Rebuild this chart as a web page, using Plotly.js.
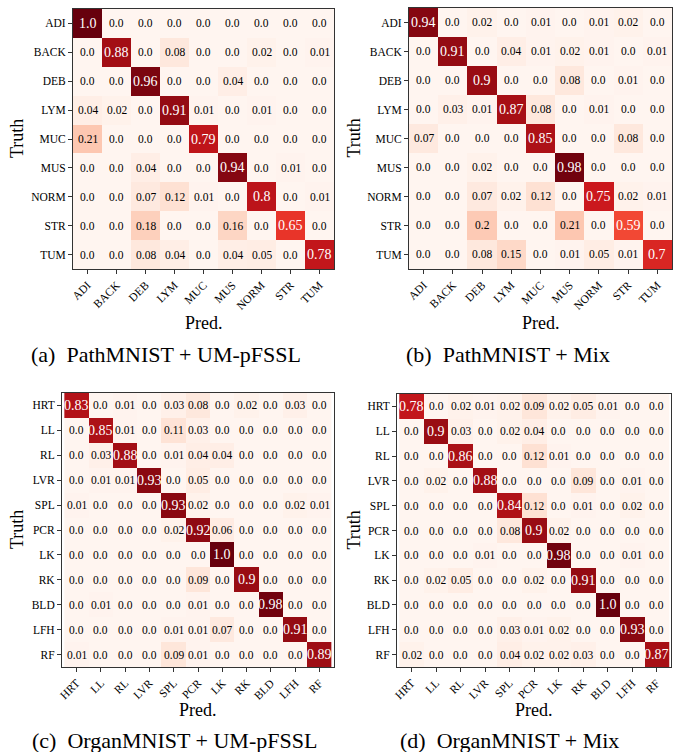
<!DOCTYPE html>
<html>
<head>
<meta charset="utf-8">
<script src="https://cdn.plot.ly/plotly-3.0.1.min.js"></script>
<style>html,body{margin:0;padding:0;background:#fff;}#chart{width:677px;height:752px;}</style>
</head>
<body>
<div id="chart"></div>
<script>
// ---- Data ----
const pathLabels = ["ADI","BACK","DEB","LYM","MUC","MUS","NORM","STR","TUM"];
const organLabels = ["HRT","LL","RL","LVR","SPL","PCR","LK","RK","BLD","LFH","RF"];

const pathUM = [
  [1.0,0,0,0,0,0,0,0,0],
  [0,0.88,0,0.08,0,0,0.02,0,0.01],
  [0,0,0.96,0,0,0.04,0,0,0],
  [0.04,0.02,0,0.91,0.01,0,0.01,0,0],
  [0.21,0,0,0,0.79,0,0,0,0],
  [0,0,0.04,0,0,0.94,0,0.01,0],
  [0,0,0.07,0.12,0.01,0,0.8,0,0.01],
  [0,0,0.18,0,0,0.16,0,0.65,0],
  [0,0,0.08,0.04,0,0.04,0.05,0,0.78]
];
const pathMix = [
  [0.94,0,0.02,0,0.01,0,0.01,0.02,0],
  [0,0.91,0,0.04,0.01,0.02,0.01,0,0.01],
  [0,0,0.9,0,0,0.08,0,0.01,0],
  [0,0.03,0.01,0.87,0.08,0,0.01,0,0],
  [0.07,0,0,0,0.85,0,0,0.08,0],
  [0,0,0.02,0,0,0.98,0,0,0],
  [0,0,0.07,0.02,0.12,0,0.75,0.02,0.01],
  [0,0,0.2,0,0,0.21,0,0.59,0],
  [0,0,0.08,0.15,0,0.01,0.05,0.01,0.7]
];
const organUM = [
  [0.83,0,0.01,0,0.03,0.08,0,0.02,0,0.03,0],
  [0,0.85,0.01,0,0.11,0.03,0,0,0,0,0],
  [0,0.03,0.88,0,0.01,0.04,0.04,0,0,0,0],
  [0,0.01,0.01,0.93,0,0.05,0,0,0,0,0],
  [0.01,0,0,0,0.93,0.02,0,0,0,0.02,0.01],
  [0,0,0,0,0.02,0.92,0.06,0,0,0,0],
  [0,0,0,0,0,0,1.0,0,0,0,0],
  [0,0,0,0,0,0.09,0,0.9,0,0,0],
  [0,0.01,0,0,0,0.01,0,0,0.98,0,0],
  [0,0,0,0,0.01,0.01,0.07,0,0,0.91,0],
  [0.01,0,0,0,0.09,0.01,0,0,0,0,0.89]
];
const organMix = [
  [0.78,0,0.02,0.01,0.02,0.09,0.02,0.05,0.01,0,0],
  [0,0.9,0.03,0,0.02,0.04,0,0,0,0,0],
  [0,0,0.86,0,0,0.12,0.01,0,0,0,0],
  [0,0.02,0,0.88,0,0,0,0.09,0,0.01,0],
  [0,0,0,0,0.84,0.12,0,0.01,0,0.02,0],
  [0,0,0,0,0.08,0.9,0.02,0,0,0,0],
  [0,0,0,0.01,0,0,0.98,0,0,0.01,0],
  [0,0.02,0.05,0,0,0.02,0,0.91,0,0,0],
  [0,0,0,0,0,0,0,0,1.0,0,0],
  [0,0,0,0,0.03,0.01,0.02,0,0,0.93,0],
  [0.02,0,0,0,0.04,0.02,0.02,0.03,0,0,0.87]
];
const captions = ["(a)\u00a0\u00a0PathMNIST + UM-pFSSL","(b)\u00a0\u00a0PathMNIST + Mix",
                  "(c)\u00a0\u00a0OrganMNIST + UM-pFSSL","(d)\u00a0\u00a0OrganMNIST + Mix"];
const xTitle = "Pred.";
const yTitle = "Truth";

// ---- Layout geometry (pixels) ----
const W = 677, H = 752;
const FONT = "'Liberation Serif', 'Times New Roman', serif";
const panels = [
  {z: pathUM,   labels: pathLabels,  box: [73, 334, 9, 269],   truthX: 17,  predY: 323, capX: 166, capY: 354},
  {z: pathMix,  labels: pathLabels,  box: [409, 672, 8, 269],  truthX: 353, predY: 323, capX: 508, capY: 354},
  {z: organUM,  labels: organLabels, box: [62, 334, 393, 667], truthX: 17,  predY: 710, capX: 174, capY: 740},
  {z: organMix, labels: organLabels, box: [397, 671, 394, 667],truthX: 353, predY: 710, capX: 509, capY: 740}
];

const reds = [
  [0.0,"#fff5f0"],[0.125,"#fee0d2"],[0.25,"#fcbba1"],[0.375,"#fc9272"],
  [0.5,"#fb6a4a"],[0.625,"#ef3b2c"],[0.75,"#cb181d"],[0.875,"#a50f15"],[1.0,"#67000d"]
];

function fmt(v){ return Number.isInteger(v) ? v.toFixed(1) : String(v); }

const data = [];
const layout = {
  width: W, height: H,
  margin: {l:0, r:0, t:0, b:0},
  paper_bgcolor: "#fff", plot_bgcolor: "#fff",
  showlegend: false,
  font: {family: FONT, color: "#000"},
  annotations: []
};

panels.forEach((p, k) => {
  const n = k + 1;
  const xa = n === 1 ? "x" : "x" + n;
  const ya = n === 1 ? "y" : "y" + n;
  data.push({
    type: "heatmap",
    z: p.z, x: p.labels, y: p.labels,
    xaxis: xa, yaxis: ya,
    colorscale: reds, zmin: 0, zmax: 1,
    showscale: false, hoverinfo: "x+y+z"
  });
  const [x0, x1, y0, y1] = p.box;
  const axCommon = {
    showline: true, mirror: true, linecolor: "#333", linewidth: 1,
    ticks: "outside", ticklen: 4, tickwidth: 1, tickcolor: "#333",
    tickfont: {family: FONT, size: 11.5, color: "#000"},
    showgrid: false, zeroline: false, fixedrange: true,
    type: "category", categoryorder: "array", categoryarray: p.labels
  };
  layout[n === 1 ? "xaxis" : "xaxis" + n] = Object.assign({}, axCommon, {
    domain: [x0 / W, x1 / W], anchor: ya, tickangle: -45
  });
  layout[n === 1 ? "yaxis" : "yaxis" + n] = Object.assign({}, axCommon, {
    domain: [1 - y1 / H, 1 - y0 / H], anchor: xa, autorange: "reversed"
  });
  // cell texts
  p.z.forEach((row, i) => {
    row.forEach((v, j) => {
      const dark = v >= 0.5;
      layout.annotations.push({
        x: p.labels[j], y: p.labels[i], xref: xa, yref: ya,
        text: fmt(v), showarrow: false,
        font: {family: FONT, size: dark ? 14 : 11.5, color: dark ? "#fff" : "#000"}
      });
    });
  });
  // axis titles
  layout.annotations.push({
    xref: "paper", yref: "paper", x: (x0 + x1) / 2 / W, y: 1 - p.predY / H,
    xanchor: "center", yanchor: "middle", text: xTitle, showarrow: false,
    font: {family: FONT, size: 18, color: "#000"}
  });
  layout.annotations.push({
    xref: "paper", yref: "paper", x: p.truthX / W, y: 1 - ((y0 + y1) / 2) / H,
    xanchor: "center", yanchor: "middle", text: yTitle, textangle: -90, showarrow: false,
    font: {family: FONT, size: 18, color: "#000"}
  });
  layout.annotations.push({
    xref: "paper", yref: "paper", x: p.capX / W, y: 1 - p.capY / H,
    xanchor: "center", yanchor: "middle", text: captions[k], showarrow: false,
    font: {family: FONT, size: 22, color: "#000"}
  });
});

Plotly.newPlot("chart", data, layout, {displayModeBar: false, staticPlot: true});
</script>
</body>
</html>
